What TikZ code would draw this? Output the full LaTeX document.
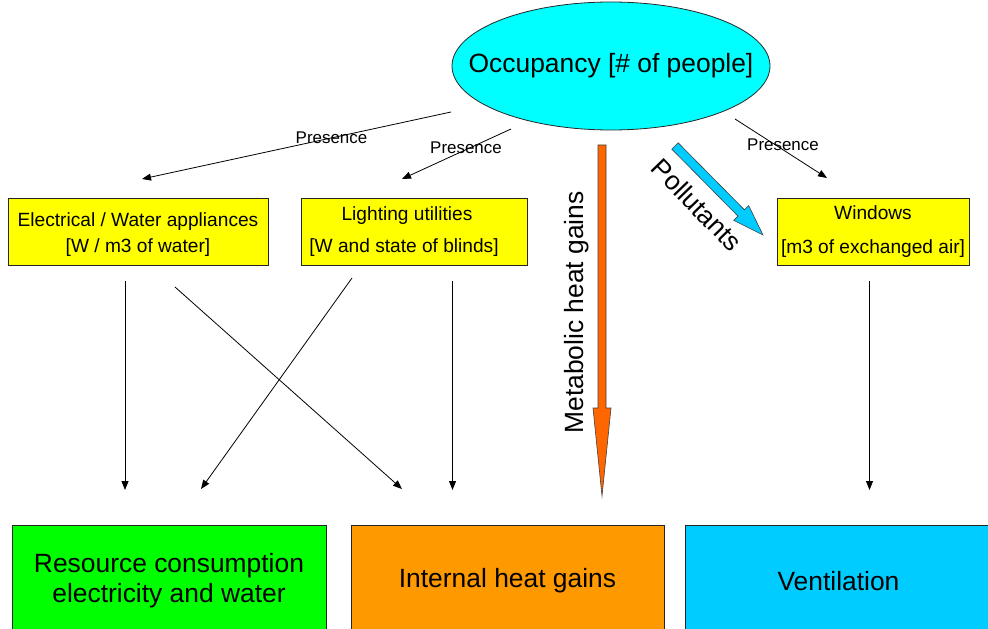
\documentclass[tikz,border=0pt]{standalone}
\usepackage{fontspec}
\setmainfont{Liberation Sans}
\usetikzlibrary{arrows.meta,calc,shapes.geometric}
\definecolor{occcyan}{HTML}{00FFFF}
\definecolor{boxyellow}{HTML}{FFFF00}
\definecolor{resgreen}{HTML}{00FF00}
\definecolor{heatorange}{HTML}{FF9900}
\definecolor{ventblue}{HTML}{00CCFF}
\definecolor{metorange}{HTML}{FF6600}
\definecolor{polblue}{HTML}{00CCFF}
\begin{document}
\begin{tikzpicture}[x=1bp,y=-1bp,
  thinarrow/.style={draw=black, line width=0.8bp, -{Triangle[length=9bp,width=7bp]}},
  ybox/.style={draw=black!85, line width=0.8bp, fill=boxyellow, inner sep=0pt,
    align=center, minimum height=67bp, font=\fontsize{19.2}{26}\selectfont},
  bigbox/.style={draw=black!85, line width=0.8bp, inner sep=0pt, align=center,
    minimum height=112bp, font=\fontsize{26.5}{30}\selectfont},
  lbl/.style={font=\fontsize{17}{20}\selectfont, inner sep=0pt},
  blockarrow/.style={draw=black!75, line width=0.6bp},
]
\useasboundingbox (0,0) rectangle (988,629);
\clip (0,0) rectangle (988,629);

% occupancy ellipse
\node[ellipse, draw=black!85, line width=0.8bp, fill=occcyan, inner sep=0pt,
  minimum width=318bp, minimum height=128bp,
  font=\fontsize{26.5}{30}\selectfont] (occ) at (611,66)
  {\makebox[0pt]{Occupancy [\# of people]}};

% yellow boxes
\node[ybox, minimum width=260bp] (elec) at (138,231.5)
  {\rule{0pt}{20bp}Electrical / Water appliances\\{}[W / m3 of water]};
\node[ybox, minimum width=226bp] (light) at (414,231.5)
  {Lighting utilities\hspace*{14bp}\\[6bp]{}[W and state of blinds]\hspace*{20bp}};
\node[ybox, minimum width=192bp] (win) at (873,231.5)
  {Windows\\[8bp]{}[m3 of exchanged air]};

% bottom boxes (top edge at y=525, bottom edge below the page)
\node[bigbox, fill=resgreen, minimum width=314bp] (res) at (169,581)
  {Resource consumption\\electricity and water};
\node[bigbox, fill=heatorange, minimum width=313bp] (heat) at (507.5,581)
  {Internal heat gains};
\node[bigbox, fill=ventblue, minimum width=307bp] (vent) at (838.5,581)
  {Ventilation};

% presence connectors
\coordinate (p1s) at (451,112); \coordinate (p1t) at (142,179);
\coordinate (p2s) at (511,129); \coordinate (p2t) at (402,179);
\coordinate (p3s) at (735,119); \coordinate (p3t) at (827,178);
\draw[thinarrow] (p1s) -- (p1t);
\draw[thinarrow] (p2s) -- (p2t);
\draw[thinarrow] (p3s) -- (p3t);
\node[lbl] (pl1) at (331.5,138) {Presence};
\node[lbl] (pl2) at (466,148) {Presence};
\node[lbl] (pl3) at (783,145) {Presence};

% lower connectors
\coordinate (e1s) at (125,281); \coordinate (e1t) at (125,490);
\coordinate (e2s) at (175,287); \coordinate (e2t) at (402,489);
\coordinate (l1s) at (352,278); \coordinate (l1t) at (201,489);
\coordinate (l2s) at (452.5,281); \coordinate (l2t) at (452.5,490);
\coordinate (w1s) at (869.5,281); \coordinate (w1t) at (869.5,490);
\draw[thinarrow] (e1s) -- (e1t);
\draw[thinarrow] (e2s) -- (e2t);
\draw[thinarrow] (l1s) -- (l1t);
\draw[thinarrow] (l2s) -- (l2t);
\draw[thinarrow] (w1s) -- (w1t);

% metabolic heat gains block arrow
\coordinate (metT) at (602,145);
\coordinate (metH) at (602,496);
\coordinate (metB) at (602,408);
\filldraw[blockarrow, fill=metorange]
  ($(metT)+(-4,0)$) -- ($(metT)+(4,0)$) -- ($(metB)+(4,0)$) -- ($(metB)+(9,0)$)
  -- (metH) -- ($(metB)+(-9,0)$) -- ($(metB)+(-4,0)$) -- cycle;
\node[font=\fontsize{26.5}{30}\selectfont, inner sep=0pt, rotate=90, anchor=base]
  (metlbl) at (583,312.5) {Metabolic heat gains};

% pollutants block arrow
\coordinate (polT) at (675,146);
\coordinate (polH) at (763,235);
\coordinate (polB) at ($(polH)!31bp!(polT)$);
\filldraw[blockarrow, fill=polblue]
  ($(polT)!4.5bp!90:(polH)$) -- ($(polB)!4.5bp!90:(polH)$) -- ($(polB)!10.5bp!90:(polH)$)
  -- (polH) -- ($(polB)!10.5bp!-90:(polH)$) -- ($(polB)!4.5bp!-90:(polH)$)
  -- ($(polT)!4.5bp!-90:(polH)$) -- cycle;
\node[font=\fontsize{26.5}{30}\selectfont, inner sep=0pt, rotate=-46]
  (pollbl) at (697,205) {Pollutants};

\end{tikzpicture}
\end{document}
